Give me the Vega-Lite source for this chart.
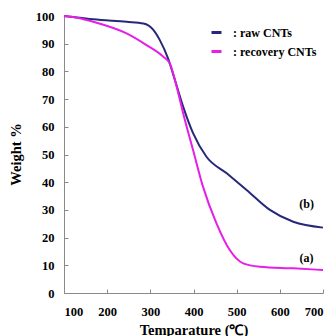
{
  "$schema": "https://vega.github.io/schema/vega-lite/v6.json",
  "width": 259,
  "height": 277,
  "autosize": {"type": "none"},
  "padding": {"left": 64, "top": 16, "right": 9, "bottom": 43},
  "background": "white",
  "config": {
    "view": {"stroke": null},
    "font": "Liberation Serif",
    "axis": {
      "grid": false,
      "domainColor": "#8a8a8a",
      "tickColor": "#8a8a8a",
      "labelOverlap": false,
      "labelFont": "Liberation Serif",
      "labelFontWeight": "bold",
      "labelFontSize": 12.5,
      "labelColor": "black",
      "titleFont": "Liberation Serif",
      "titleFontWeight": "bold",
      "titleFontSize": 14.5,
      "titleColor": "black"
    }
  },
  "layer": [
    {
      "data": {
        "values": [
          {"series": "raw CNTs", "T": 100, "W": 100},
          {"series": "raw CNTs", "T": 130, "W": 99.5},
          {"series": "raw CNTs", "T": 168, "W": 98.8},
          {"series": "raw CNTs", "T": 245, "W": 97.9},
          {"series": "raw CNTs", "T": 284, "W": 97.3},
          {"series": "raw CNTs", "T": 307, "W": 95},
          {"series": "raw CNTs", "T": 322, "W": 91.3},
          {"series": "raw CNTs", "T": 341, "W": 84.7},
          {"series": "raw CNTs", "T": 357, "W": 76.9},
          {"series": "raw CNTs", "T": 376, "W": 67.3},
          {"series": "raw CNTs", "T": 399, "W": 57.7},
          {"series": "raw CNTs", "T": 430, "W": 49.2},
          {"series": "raw CNTs", "T": 477, "W": 43.2},
          {"series": "raw CNTs", "T": 523, "W": 37.2},
          {"series": "raw CNTs", "T": 577, "W": 30},
          {"series": "raw CNTs", "T": 631, "W": 25.7},
          {"series": "raw CNTs", "T": 700, "W": 23.6},
          {"series": "recovery CNTs", "T": 100, "W": 100},
          {"series": "recovery CNTs", "T": 130, "W": 99.4},
          {"series": "recovery CNTs", "T": 168, "W": 97.9},
          {"series": "recovery CNTs", "T": 245, "W": 93.7},
          {"series": "recovery CNTs", "T": 291, "W": 89.5},
          {"series": "recovery CNTs", "T": 330, "W": 85.3},
          {"series": "recovery CNTs", "T": 345, "W": 82.9},
          {"series": "recovery CNTs", "T": 361, "W": 74.5},
          {"series": "recovery CNTs", "T": 376, "W": 64.9},
          {"series": "recovery CNTs", "T": 399, "W": 51.6},
          {"series": "recovery CNTs", "T": 422, "W": 38.4},
          {"series": "recovery CNTs", "T": 453, "W": 25.2},
          {"series": "recovery CNTs", "T": 484, "W": 15.5},
          {"series": "recovery CNTs", "T": 515, "W": 10.7},
          {"series": "recovery CNTs", "T": 554, "W": 9.5},
          {"series": "recovery CNTs", "T": 631, "W": 8.9},
          {"series": "recovery CNTs", "T": 700, "W": 8.3}
        ]
      },
      "mark": {"type": "line", "strokeWidth": 2, "interpolate": "monotone"},
      "encoding": {
        "x": {
          "field": "T", "type": "quantitative",
          "scale": {"domain": [100, 700], "nice": false},
          "axis": {"values": [100, 200, 300, 400, 500, 600, 700], "tickCount": 7, "tickSize": -4, "labelPadding": 16, "title": "Temparature (℃)", "titleY": 41, "titleBaseline": "alphabetic"}
        },
        "y": {
          "field": "W", "type": "quantitative",
          "scale": {"domain": [0, 100], "nice": false},
          "axis": {"values": [0, 10, 20, 30, 40, 50, 60, 70, 80, 90, 100], "tickCount": 11, "tickSize": -4, "labelPadding": 14, "title": "Weight %", "titleX": -48, "titleY": 138, "titleBaseline": "middle", "titleAngle": -90}
        },
        "color": {
          "field": "series", "type": "nominal",
          "scale": {"domain": ["raw CNTs", "recovery CNTs"], "range": ["#28287a", "#e61ee6"]},
          "legend": {
            "title": null,
            "orient": "none",
            "legendX": 146,
            "legendY": 10,
            "symbolType": "stroke",
            "symbolSize": 100,
            "symbolStrokeWidth": 3,
            "labelExpr": "':  ' + datum.label",
            "labelFont": "Liberation Serif",
            "labelFontWeight": "bold",
            "labelFontSize": 12,
            "labelColor": "black",
            "labelOffset": 10,
            "rowPadding": 6,
            "padding": 0
          }
        }
      }
    },
    {
      "data": {
        "values": [
          {"label": "(b)", "T": 662, "W": 32},
          {"label": "(a)", "T": 662, "W": 12.6}
        ]
      },
      "mark": {"type": "text", "font": "Liberation Serif", "fontWeight": "bold", "fontSize": 12, "color": "black"},
      "encoding": {
        "x": {"field": "T", "type": "quantitative"},
        "y": {"field": "W", "type": "quantitative"},
        "text": {"field": "label"}
      }
    }
  ]
}
